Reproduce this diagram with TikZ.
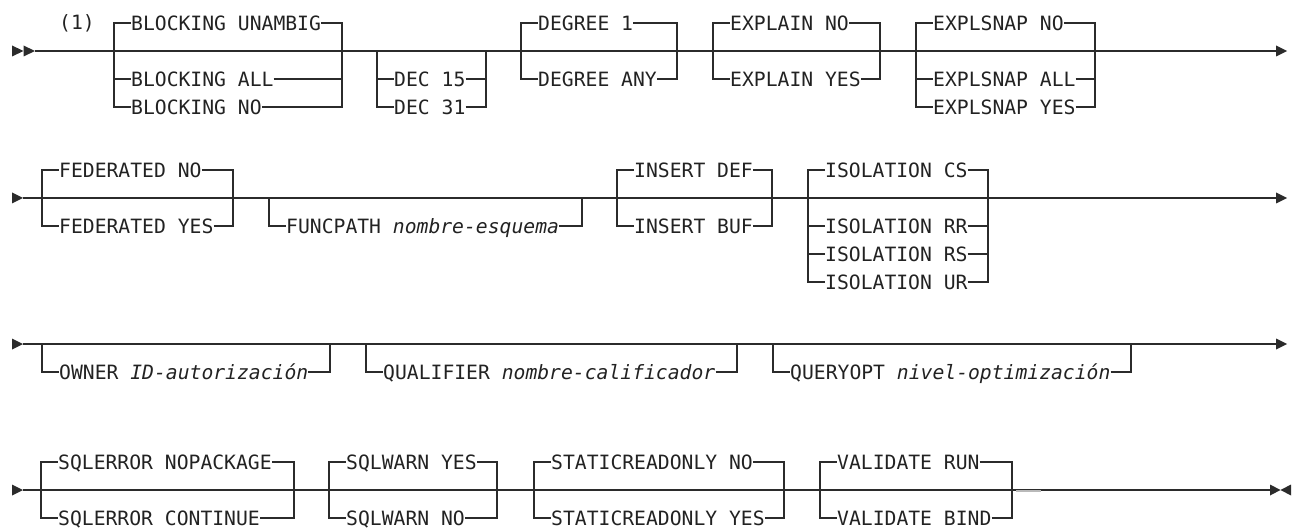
\documentclass[tikz,border=0pt]{standalone}
\usepackage{fontspec}
\newfontfamily\railfont{DejaVu Sans Mono}[ItalicFont={DejaVu Sans Mono Oblique}]
\definecolor{ink}{HTML}{2B2B2B}
\definecolor{txt}{HTML}{222222}
\tikzset{
  rail/.style={draw=ink, line width=1.4pt, line join=miter},
  tipfill/.style={fill=ink},
  lbl/.style={font=\railfont\fontsize{19.7}{20}\selectfont, text=txt, inner sep=0pt,
              text height=14.4pt, text depth=0pt, anchor=west},
}
% #1 name, #2 left bracket x, #3 right bracket x, #4 option y, #5 main y, #6 text
\newcommand\railopt[6]{%
  \node[lbl] (#1) at (#2+17,#4) {#6};
  \draw[rail] (#2,#5) |- (#1.west);
  \draw[rail] (#1.east) -| (#3,#5);
}
\begin{document}
\begin{tikzpicture}[x=1pt,y=-1pt]
\useasboundingbox (0,0) rectangle (1292,529);

% ---------------- Row 1 ----------------
\coordinate (s1) at (35,51); \coordinate (e1) at (1276,51);
\draw[rail] (s1) -- (e1);
\fill[tipfill] (12,45.5) -- (23.5,51) -- (12,56.5) -- cycle;
\fill[tipfill] (23.5,45.5) -- (35,51) -- (23.5,56.5) -- cycle;
\fill[tipfill] (1276,45.5) -- (1287,51) -- (1276,56.5) -- cycle;
\node[lbl] (note) at (59,22) {(1)};
\railopt{blu}{114}{342}{23}{51}{BLOCKING UNAMBIG}
\railopt{bla}{114}{342}{79}{51}{BLOCKING ALL}
\railopt{bln}{114}{342}{107}{51}{BLOCKING NO}
\railopt{d15}{377}{486}{79}{51}{DEC 15}
\railopt{d31}{377}{486}{107}{51}{DEC 31}
\railopt{dg1}{521}{677}{23}{51}{DEGREE 1}
\railopt{dga}{521}{677}{79}{51}{DEGREE ANY}
\railopt{exn}{713}{880}{23}{51}{EXPLAIN NO}
\railopt{exy}{713}{880}{79}{51}{EXPLAIN YES}
\railopt{esn}{916}{1095}{23}{51}{EXPLSNAP NO}
\railopt{esa}{916}{1095}{79}{51}{EXPLSNAP ALL}
\railopt{esy}{916}{1095}{107}{51}{EXPLSNAP YES}

% ---------------- Row 2 ----------------
\coordinate (s2) at (23,198); \coordinate (e2) at (1276,198);
\draw[rail] (s2) -- (e2);
\fill[tipfill] (12,192.5) -- (s2) -- (12,203.5) -- cycle;
\fill[tipfill] (1276,192.5) -- (1287,198) -- (1276,203.5) -- cycle;
\railopt{fdn}{42}{233}{170}{198}{FEDERATED NO}
\railopt{fdy}{42}{233}{226}{198}{FEDERATED YES}
\railopt{fnc}{269}{582}{226}{198}{FUNCPATH \textit{nombre-esquema}}
\railopt{ind}{617}{772}{170}{198}{INSERT DEF}
\railopt{inb}{617}{772}{226}{198}{INSERT BUF}
\railopt{ics}{808}{988}{170}{198}{ISOLATION CS}
\railopt{irr}{808}{988}{226}{198}{ISOLATION RR}
\railopt{irs}{808}{988}{254}{198}{ISOLATION RS}
\railopt{iur}{808}{988}{282}{198}{ISOLATION UR}

% ---------------- Row 3 ----------------
\coordinate (s3) at (23,344); \coordinate (e3) at (1276,344);
\draw[rail] (s3) -- (e3);
\fill[tipfill] (12,338.5) -- (s3) -- (12,349.5) -- cycle;
\fill[tipfill] (1276,338.5) -- (1287,344) -- (1276,349.5) -- cycle;
\railopt{own}{42}{330}{372}{344}{OWNER \textit{ID-autorización}}
\railopt{qua}{366}{737}{372}{344}{QUALIFIER \textit{nombre-calificador}}
\railopt{qry}{773}{1131}{372}{344}{QUERYOPT \textit{nivel-optimización}}

% ---------------- Row 4 ----------------
\coordinate (s4) at (23,490); \coordinate (e4) at (1270,490);
\draw[rail] (s4) -- (e4);
\draw[gray!55, line width=1.8pt] (1016,491) -- (1041,491);
\fill[tipfill] (12,484.5) -- (s4) -- (12,495.5) -- cycle;
\fill[tipfill] (1270,484.5) -- (1280.5,490) -- (1270,495.5) -- cycle;
\fill[tipfill] (1291,484.5) -- (1280.5,490) -- (1291,495.5) -- cycle;
\railopt{sen}{41}{294}{462}{490}{SQLERROR NOPACKAGE}
\railopt{sec}{41}{294}{518}{490}{SQLERROR CONTINUE}
\railopt{swy}{329}{497}{462}{490}{SQLWARN YES}
\railopt{swn}{329}{497}{518}{490}{SQLWARN NO}
\railopt{stn}{534}{784}{462}{490}{STATICREADONLY NO}
\railopt{sty}{534}{784}{518}{490}{STATICREADONLY YES}
\railopt{vrn}{820}{1012}{462}{490}{VALIDATE RUN}
\railopt{vbd}{820}{1012}{518}{490}{VALIDATE BIND}
\end{tikzpicture}
\end{document}
